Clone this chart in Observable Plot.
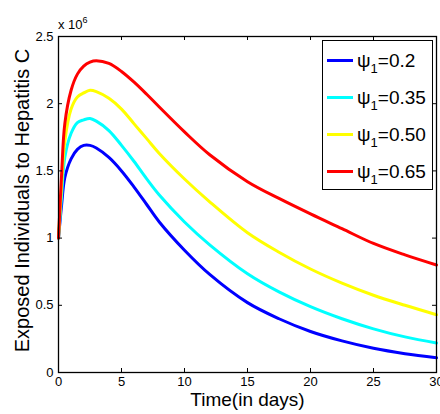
<!DOCTYPE html>
<html>
<head>
<meta charset="utf-8">
<script src="https://cdn.jsdelivr.net/npm/d3@7"></script>
<script src="https://cdn.jsdelivr.net/npm/@observablehq/plot@0.6"></script>
<style>
  body { margin: 0; background: #fff; }
  #wrap { position: relative; width: 440px; height: 414px; font-family: "Liberation Sans", Arial, sans-serif; }
  #scale { position: absolute; left: 58px; top: 17px; font-size: 13px; color: #000; }
  #scale sup { font-size: 9px; vertical-align: 0; position: relative; top: -6px; }
  #legend { position: absolute; left: 322px; top: 40px; width: 111px; height: 150px; border: 1px solid #000; background: #fff; box-sizing: border-box; }
  .row { position: absolute; left: 4px; height: 37px; display: flex; align-items: center; }
  .swatch { width: 26px; height: 3px; margin-right: 4px; }
  .lab { font-size: 19px; line-height: 1; white-space: nowrap; }
  .lab sub { font-size: 13px; vertical-align: 0; position: relative; top: 6px; }
</style>
</head>
<body>
<div id="wrap">
  <div id="chart"></div>
  <div id="scale">x 10<sup>6</sup></div>
  <div id="legend"></div>
</div>
<script>
const time = [0, 0.25, 0.5, 1, 1.5, 2, 2.5, 3, 4, 5, 6, 7, 8, 10, 12, 15, 17.5, 20, 22.5, 25, 27.5, 30];
const psi02  = [1.0, 1.25, 1.45, 1.59, 1.66, 1.69, 1.69, 1.67, 1.60, 1.50, 1.38, 1.25, 1.12, 0.91, 0.73, 0.52, 0.40, 0.305, 0.235, 0.18, 0.14, 0.11];
const psi035 = [1.0, 1.32, 1.60, 1.78, 1.86, 1.88, 1.89, 1.87, 1.80, 1.69, 1.57, 1.44, 1.32, 1.12, 0.95, 0.735, 0.60, 0.49, 0.40, 0.325, 0.265, 0.22];
const psi050 = [1.0, 1.40, 1.72, 1.96, 2.05, 2.08, 2.10, 2.09, 2.04, 1.96, 1.85, 1.74, 1.63, 1.44, 1.27, 1.04, 0.895, 0.77, 0.665, 0.575, 0.50, 0.43];
const psi065 = [1.0, 1.48, 1.85, 2.10, 2.22, 2.28, 2.31, 2.32, 2.30, 2.24, 2.16, 2.07, 1.975, 1.79, 1.62, 1.42, 1.295, 1.18, 1.07, 0.96, 0.875, 0.80];
const seriesNames = ["0.2", "0.35", "0.50", "0.65"];
const seriesColors = ["#0000ff", "#00ffff", "#ffff00", "#ff0000"];
const seriesValues = [psi02, psi035, psi050, psi065];
const xTicks = [0, 5, 10, 15, 20, 25, 30];
const yTicks = [0, 0.5, 1, 1.5, 2, 2.5];
const xLabel = "Time(in days)";
const yLabel = "Exposed Individuals to Hepatitis C";

const rows = [];
seriesValues.forEach((vals, i) => {
  vals.forEach((v, j) => rows.push({series: seriesNames[i], t: time[j], v}));
});

const plot = Plot.plot({
  width: 440,
  height: 414,
  marginLeft: 58,
  marginRight: 4,
  marginTop: 36,
  marginBottom: 42,
  style: {fontFamily: '"Liberation Sans", Arial, sans-serif', fontSize: "13px", color: "#000", background: "#fff"},
  x: {domain: [0, 30]},
  y: {domain: [0, 2.5]},
  color: {domain: seriesNames, range: seriesColors},
  marks: [
    Plot.line(rows, {x: "t", y: "v", z: "series", stroke: "series", strokeWidth: 3, curve: "catmull-rom"}),
    Plot.tickX(xTicks, {x: d => d, insetTop: 332, stroke: "#000"}),
    Plot.tickX(xTicks, {x: d => d, insetBottom: 332, stroke: "#000"}),
    Plot.tickY(yTicks, {y: d => d, insetRight: 374, stroke: "#000"}),
    Plot.tickY(yTicks, {y: d => d, insetLeft: 374, stroke: "#000"}),
    Plot.frame({stroke: "#000", strokeWidth: 1.3}),
    Plot.axisX(xTicks, {tickSize: 0, tickPadding: 4, label: null, fontSize: 13}),
    Plot.axisY(yTicks, {tickSize: 0, tickPadding: 5, label: null, fontSize: 13, tickFormat: d => String(d)}),
    Plot.text([xLabel], {frameAnchor: "bottom", dy: 33, fontSize: 19, fill: "#000"}),
    Plot.text([yLabel], {frameAnchor: "left", textAnchor: "middle", dx: -36, dy: -4, rotate: -90, fontSize: 20, fill: "#000"})
  ]
});
document.getElementById("chart").appendChild(plot);

const legend = document.getElementById("legend");
seriesNames.forEach((name, i) => {
  const row = document.createElement("div");
  row.className = "row";
  row.style.top = (1 + i * 37) + "px";
  row.innerHTML = `<div class="swatch" style="background:${seriesColors[i]}"></div><span class="lab">\u03C8<sub>1</sub>=${name}</span>`;
  legend.appendChild(row);
});
</script>
</body>
</html>
